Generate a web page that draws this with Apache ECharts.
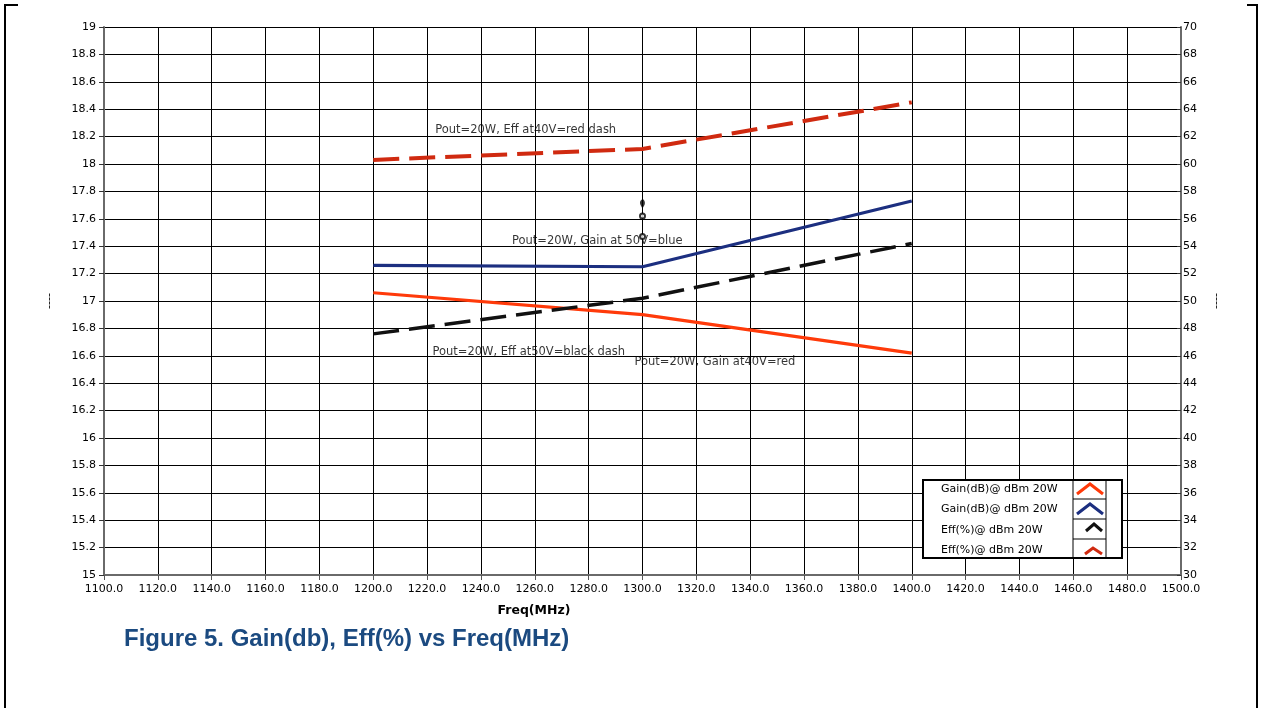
<!DOCTYPE html>
<html>
<head>
<meta charset="utf-8">
<script src="https://cdn.jsdelivr.net/npm/echarts@6/dist/echarts.min.js"></script>
<style>
  html, body { margin: 0; padding: 0; background: #fff; }
  #chart { width: 1266px; height: 708px; }
</style>
</head>
<body>
<div id="chart"></div>
<script>
// Frequency points (MHz)
const freqs = [1200, 1300, 1400];
// Gain (dB), left axis
const gain40 = [17.06, 16.90, 16.62];   // 40 V, red solid
const gain50 = [17.26, 17.25, 17.73];   // 50 V, blue solid
// Efficiency (%), right axis
const eff50 = [47.6, 50.2, 54.2];       // 50 V, black dash
const eff40 = [60.3, 61.1, 64.5];       // 40 V, red dash

// Axis ranges / steps
const freqMin = 1100, freqMax = 1500, freqStep = 20;
const gainMin = 15, gainMax = 19, gainStep = 0.2;
const effMin = 30, effMax = 70, effStep = 2;

// In-plot notes: [freq, gain, text]
const notes = [
  [1223, 18.25, 'Pout=20W, Eff at40V=red dash'],
  [1251.5, 17.44, 'Pout=20W, Gain at 50V=blue'],
  [1222, 16.63, 'Pout=20W, Eff at50V=black dash'],
  [1297, 16.555, 'Pout=20W, Gain at40V=red']
];

// Cursor marker at 1300 MHz: [freq, gain]
const cursorPin = [[1300, 17.665]];
const cursorRings = [[1300, 17.62], [1300, 17.47]];

// Legend entries
const legendLabels = ['Gain(dB)@ dBm 20W', 'Gain(dB)@ dBm 20W', 'Eff(%)@ dBm 20W', 'Eff(%)@ dBm 20W'];

const COL_RED = '#ff3a0a';
const COL_BLUE = '#1c2f80';
const COL_BLACK = '#111111';
const COL_DRED = '#d02a10';
const FONT = 'DejaVu Sans';

const pairs = (ys) => freqs.map((f, i) => [f, ys[i]]);

const chart = echarts.init(document.getElementById('chart'));

// Legend box drawn as graphic: frame, icon column, row dividers, chevrons, texts
const legendGraphic = [];
const boxL = 923, boxT = 480, boxR = 1122, boxB = 558, iconL = 1073, iconR = 1106;
legendGraphic.push({ type: 'rect', shape: { x: boxL, y: boxT, width: boxR - boxL, height: boxB - boxT },
  style: { fill: '#fff', stroke: '#000', lineWidth: 2 }, z: 100 });
legendGraphic.push({ type: 'line', shape: { x1: iconL, y1: boxT, x2: iconL, y2: boxB }, style: { stroke: '#000', lineWidth: 1 }, z: 101 });
legendGraphic.push({ type: 'line', shape: { x1: iconR, y1: boxT, x2: iconR, y2: boxB }, style: { stroke: '#000', lineWidth: 1 }, z: 101 });
[499, 519, 539].forEach(y => legendGraphic.push({ type: 'line', shape: { x1: iconL, y1: y, x2: iconR, y2: y }, style: { stroke: '#000', lineWidth: 1 }, z: 101 }));
const chevrons = [
  { pts: [[1077, 494], [1090, 484], [1103, 494]], c: COL_RED },
  { pts: [[1077, 514], [1090, 504], [1103, 514]], c: COL_BLUE },
  { pts: [[1086, 531], [1094, 524], [1102, 531]], c: COL_BLACK },
  { pts: [[1085, 554], [1093, 548], [1102, 554]], c: COL_DRED }
];
chevrons.forEach(ch => legendGraphic.push({ type: 'polyline', shape: { points: ch.pts },
  style: { stroke: ch.c, lineWidth: 3, fill: null }, z: 102 }));
[489, 509, 530, 550].forEach((y, i) => legendGraphic.push({ type: 'text', x: 941, y: y,
  style: { text: legendLabels[i], font: '11px "' + FONT + '"', fill: '#000', textVerticalAlign: 'middle' }, z: 102 }));

const option = {
  animation: false,
  backgroundColor: '#fff',
  title: {
    text: 'Figure 5. Gain(db), Eff(%) vs Freq(MHz)',
    left: 124, top: 627, padding: 0,
    textStyle: { fontFamily: 'Liberation Sans', fontWeight: 'bold', fontSize: 24, color: '#1b4a80' }
  },
  grid: { left: 104, right: 85, top: 27, bottom: 133, containLabel: false },
  xAxis: {
    type: 'value', min: freqMin, max: freqMax, interval: freqStep,
    axisLine: { show: true, lineStyle: { color: '#6a6a6a', width: 2 } },
    axisTick: { show: true, inside: false, length: 5, lineStyle: { color: '#555', width: 1 } },
    axisLabel: { margin: 9, color: '#000', fontFamily: FONT, fontSize: 11,
      showMinLabel: true, showMaxLabel: true, formatter: v => v.toFixed(1) },
    splitLine: { show: true, lineStyle: { color: '#000', width: 1 } }
  },
  yAxis: [
    {
      type: 'value', min: gainMin, max: gainMax, interval: gainStep, position: 'left',
      name: '----', nameLocation: 'middle', nameGap: 49, nameRotate: 90,
      nameTextStyle: { fontFamily: FONT, fontSize: 11, color: '#000' },
      axisLine: { show: true, lineStyle: { color: '#6a6a6a', width: 2 } },
      axisTick: { show: true, inside: false, length: 5, lineStyle: { color: '#333', width: 1 } },
      axisLabel: { margin: 8, color: '#000', fontFamily: FONT, fontSize: 11,
        showMinLabel: true, showMaxLabel: true,
        formatter: v => String(Math.round(v * 10) / 10) },
      splitLine: { show: true, lineStyle: { color: '#000', width: 1 } }
    },
    {
      type: 'value', min: effMin, max: effMax, interval: effStep, position: 'right',
      name: '----', nameLocation: 'middle', nameGap: 30, nameRotate: 90,
      nameTextStyle: { fontFamily: FONT, fontSize: 11, color: '#000' },
      axisLine: { show: true, lineStyle: { color: '#6a6a6a', width: 2 } },
      axisTick: { show: true, inside: true, length: 4, lineStyle: { color: '#333', width: 1 } },
      axisLabel: { margin: 2, color: '#000', fontFamily: FONT, fontSize: 11,
        showMinLabel: true, showMaxLabel: true },
      splitLine: { show: false }
    }
  ],
  series: [
    { name: 'Gain 40V', type: 'line', yAxisIndex: 0, data: pairs(gain40), symbol: 'none',
      lineStyle: { color: COL_RED, width: 3.2 }, z: 5 },
    { name: 'Gain 50V', type: 'line', yAxisIndex: 0, data: pairs(gain50), symbol: 'none',
      lineStyle: { color: COL_BLUE, width: 3.2 }, z: 5 },
    { name: 'Eff 50V', type: 'line', yAxisIndex: 1, data: pairs(eff50), symbol: 'none',
      lineStyle: { color: COL_BLACK, width: 3.5, type: [26, 10] }, z: 5 },
    { name: 'Eff 40V', type: 'line', yAxisIndex: 1, data: pairs(eff40), symbol: 'none',
      lineStyle: { color: COL_DRED, width: 4, type: [26, 10] }, z: 5 },
    { name: 'notes', type: 'scatter', yAxisIndex: 0, data: notes, symbolSize: 0, silent: true, z: 6,
      label: { show: true, position: 'right', distance: 0, color: '#000', fontFamily: FONT, fontSize: 11.5,
        formatter: p => p.value[2] } },
    { name: 'cursor', type: 'scatter', yAxisIndex: 0, data: cursorPin, symbol: 'pin',
      symbolSize: [8, 12], itemStyle: { color: '#000' }, silent: true, z: 7 },
    { name: 'cursorRings', type: 'scatter', yAxisIndex: 0, data: cursorRings, symbol: 'emptyCircle',
      symbolSize: 5, itemStyle: { color: '#000', borderColor: '#000', borderWidth: 1 }, silent: true, z: 7 }
  ],
  graphic: [
    // Page frame
    { type: 'line', shape: { x1: 5, y1: 5, x2: 5, y2: 708 }, style: { stroke: '#000', lineWidth: 2 } },
    { type: 'line', shape: { x1: 4, y1: 5, x2: 18, y2: 5 }, style: { stroke: '#000', lineWidth: 2 } },
    { type: 'line', shape: { x1: 1247, y1: 5, x2: 1258, y2: 5 }, style: { stroke: '#000', lineWidth: 2 } },
    { type: 'line', shape: { x1: 1257, y1: 5, x2: 1257, y2: 708 }, style: { stroke: '#000', lineWidth: 2 } },
    // X axis title
    { type: 'text', x: 534, y: 611,
      style: { text: 'Freq(MHz)', font: 'bold 12.5px "' + FONT + '"', fill: '#000',
        textAlign: 'center', textVerticalAlign: 'middle' } },
    ...legendGraphic
  ]
};

chart.setOption(option);
</script>
</body>
</html>
